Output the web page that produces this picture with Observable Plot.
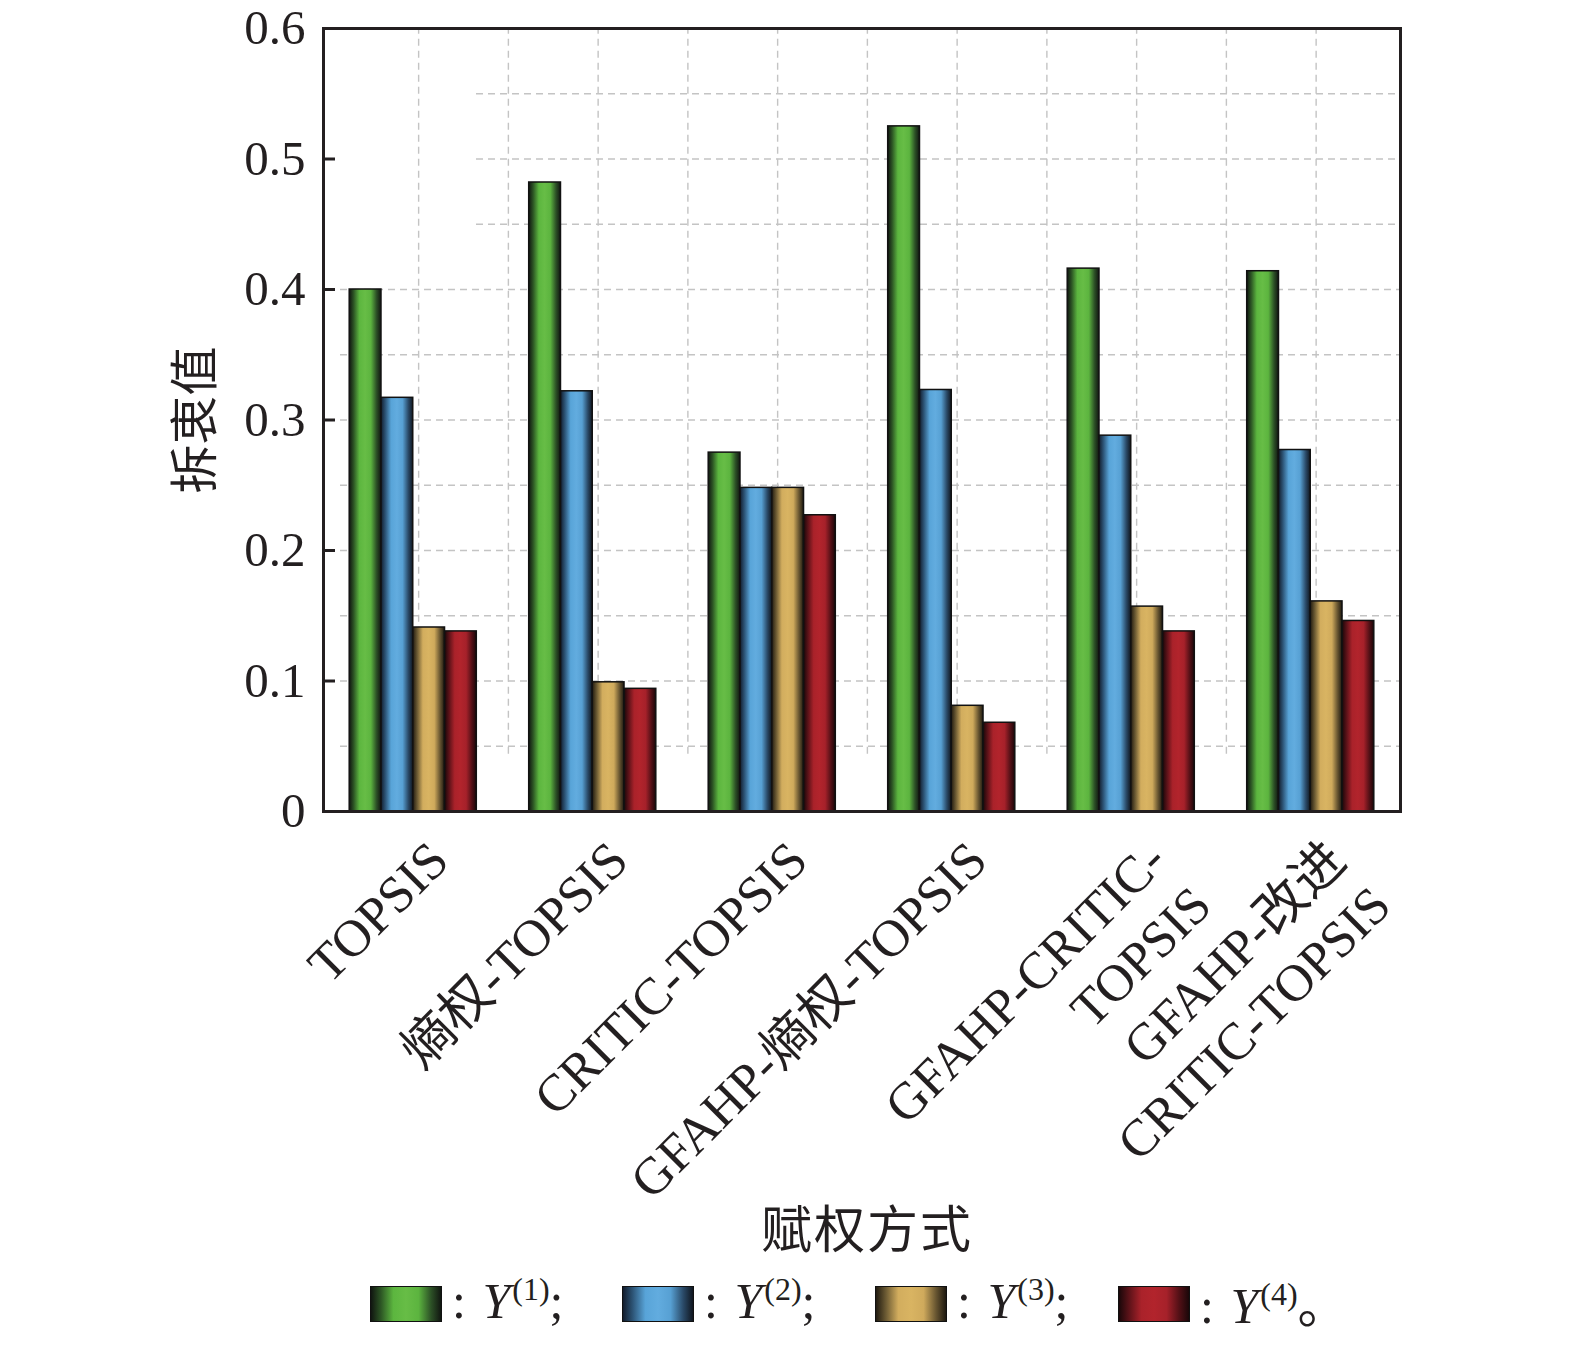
<!DOCTYPE html>
<html>
<head>
<meta charset="utf-8">
<script src="https://cdn.jsdelivr.net/npm/d3@7"></script>
<script src="https://cdn.jsdelivr.net/npm/@observablehq/plot@0.6"></script>
<style>
  html, body { margin: 0; padding: 0; background: #fff; overflow: hidden; }
  #wrap { position: relative; width: 1575px; height: 1340px; font-family: "Liberation Serif", "Noto Sans CJK SC", serif; color: #231f20; }
  #chart { position: absolute; left: 0; top: 0; }
  #chart svg { max-width: none !important; }
  .ytitle { position: absolute; left: 190px; top: 420px; transform: translate(-50%, -50%) rotate(-90deg); font-family: "Noto Sans CJK SC", sans-serif; font-size: 49px; white-space: nowrap; color: #231f20; }
  .xtitle { position: absolute; left: 867px; top: 1226px; transform: translate(-50%, -50%); font-family: "Noto Sans CJK SC", sans-serif; font-size: 51px; white-space: nowrap; letter-spacing: 2px; color: #231f20; }
  .leg { position: absolute; top: 1276px; display: flex; align-items: center; font-size: 50px; white-space: nowrap; height: 50px; }
  .sw { width: 70px; height: 34px; border: 1.5px solid #111; margin-right: 10px; margin-top: 6px; }
  .leg i { font-style: italic; margin-left: 4px; }
  .leg sup { font-size: 32px; vertical-align: 0; position: relative; top: -18px; margin-left: 2px; }
  .cjk { font-family: "Noto Sans CJK SC", sans-serif; }
</style>
</head>
<body>
<div id="wrap">
  <div id="chart"></div>
  <div class="ytitle">拆衷值</div>
  <div class="xtitle">赋权方式</div>
  <div id="legend"></div>
</div>
<script>
// ---- data ----
const categories = ["TOPSIS", "熵权-TOPSIS", "CRITIC-TOPSIS", "GFAHP-熵权-TOPSIS", "GFAHP-CRITIC-\nTOPSIS", "GFAHP-改进\nCRITIC-TOPSIS"];
const seriesLabels = ["(1)", "(2)", "(3)", "(4)"];
const y1 = [0.400, 0.482, 0.275, 0.525, 0.416, 0.414];
const y2 = [0.317, 0.322, 0.248, 0.323, 0.288, 0.277];
const y3 = [0.141, 0.099, 0.248, 0.081, 0.157, 0.161];
const y4 = [0.138, 0.094, 0.227, 0.068, 0.138, 0.146];
const yTicks = [0, 0.1, 0.2, 0.3, 0.4, 0.5, 0.6];
const gridYLow = [0.05, 0.1, 0.15, 0.2, 0.25, 0.3, 0.35, 0.4];
const gridYHigh = [0.45, 0.5, 0.55];

// ---- styles ----
const gradStops = [
  [["0", "#101510"], ["0.14", "#2c5524"], ["0.32", "#5cb63f"], ["0.5", "#67bd46"], ["0.68", "#5cb43f"], ["0.86", "#2c5026"], ["1", "#111611"]],
  [["0", "#121c2c"], ["0.14", "#2d5577"], ["0.32", "#58a4d8"], ["0.5", "#62acdf"], ["0.68", "#57a0d3"], ["0.86", "#2a4a68"], ["1", "#10161f"]],
  [["0", "#201a10"], ["0.14", "#6b5a33"], ["0.32", "#d2ad5e"], ["0.5", "#d9b462"], ["0.68", "#cfaa5c"], ["0.86", "#665430"], ["1", "#1e1910"]],
  [["0", "#1a0709"], ["0.14", "#5a1218"], ["0.32", "#aa222a"], ["0.5", "#b2242c"], ["0.68", "#a6212a"], ["0.86", "#521016"], ["1", "#1a0709"]]
];
const seriesValues = [y1, y2, y3, y4];
const bw = 0.177; // bar width in band units

const rows = [];
seriesValues.forEach((vals, s) => vals.forEach((v, i) => rows.push({i, s, value: v})));

const groupIdx = categories.map((c, i) => i);
const gridX = [];
for (let k = 0; k < categories.length; k++) { gridX.push(k); if (k < categories.length - 1) gridX.push(k + 0.5); }

const gridStyle = {stroke: "#c4c4c4", strokeWidth: 1.4, strokeDasharray: "7,5"};
const marks = [
  Plot.ruleY(gridYLow, {y: d => d, ...gridStyle, insetLeft: 17}),
  Plot.ruleY(gridYHigh, {y: d => d, ...gridStyle, insetLeft: 153}),
  Plot.ruleX(gridX, {x: d => d + 0.03, y1: 0.05, y2: 0.6, ...gridStyle, insetTop: 8})
];
for (let s = 0; s < 4; s++) {
  marks.push(Plot.rectY(rows.filter(r => r.s === s), {
    x1: d => d.i + (d.s - 2) * bw,
    x2: d => d.i + (d.s - 1) * bw,
    y1: 0,
    y2: "value",
    fill: `url(#barGrad${s})`,
    stroke: "#111",
    strokeWidth: 1.5
  }));
}
marks.push(
  Plot.tickY(yTicks, {y: d => d, stroke: "#231f20", strokeWidth: 3, insetRight: 1077 - 12}),
  Plot.axisY({ticks: yTicks, tickSize: 0, tickPadding: 18, tickFormat: d => d === 0 ? "0" : d.toFixed(1), fontSize: 49, label: null, fill: "#231f20"}),
  Plot.text(groupIdx, {
    x: d => d, frameAnchor: "bottom", text: d => categories[d],
    rotate: -45, textAnchor: "end", lineAnchor: "top", lineHeight: 1.22,
    dx: 6, dy: 20, fontSize: 52, fill: "#231f20"
  }),
  Plot.frame({stroke: "#231f20", strokeWidth: 3})
);

const svg = Plot.plot({
  width: 1575,
  height: 1200,
  marginTop: 28,
  marginLeft: 323,
  marginRight: 175,
  marginBottom: 389,
  style: {fontFamily: '"Liberation Serif", "Noto Sans CJK SC", serif', background: "transparent", color: "#231f20", maxWidth: "none", overflow: "visible"},
  x: {type: "linear", domain: [-0.5, categories.length - 0.5], axis: null},
  y: {domain: [0, 0.6], axis: null},
  marks
});

// gradient defs
const NS = "http://www.w3.org/2000/svg";
const defs = document.createElementNS(NS, "defs");
gradStops.forEach((stops, s) => {
  const g = document.createElementNS(NS, "linearGradient");
  g.setAttribute("id", `barGrad${s}`);
  g.setAttribute("x1", "0"); g.setAttribute("x2", "1"); g.setAttribute("y1", "0"); g.setAttribute("y2", "0");
  stops.forEach(([o, c]) => {
    const st = document.createElementNS(NS, "stop");
    st.setAttribute("offset", o); st.setAttribute("stop-color", c);
    g.appendChild(st);
  });
  defs.appendChild(g);
});
svg.insertBefore(defs, svg.firstChild);
document.getElementById("chart").appendChild(svg);

// legend
const legendX = [370, 622, 875, 1118];
const legend = document.getElementById("legend");
seriesLabels.forEach((lab, s) => {
  const item = document.createElement("div");
  item.className = "leg";
  item.style.left = legendX[s] + "px";
  const sw = document.createElement("div");
  sw.className = "sw";
  sw.style.background = `linear-gradient(to right, ${gradStops[s].map(([o, c]) => `${c} ${o * 100}%`).join(", ")})`;
  item.appendChild(sw);
  const t = document.createElement("span");
  const end = s === 3 ? '<span class="cjk">。</span>' : ";";
  t.innerHTML = `: <i>Y</i><sup>${lab}</sup>${end}`;
  item.appendChild(t);
  legend.appendChild(item);
});
</script>
</body>
</html>
